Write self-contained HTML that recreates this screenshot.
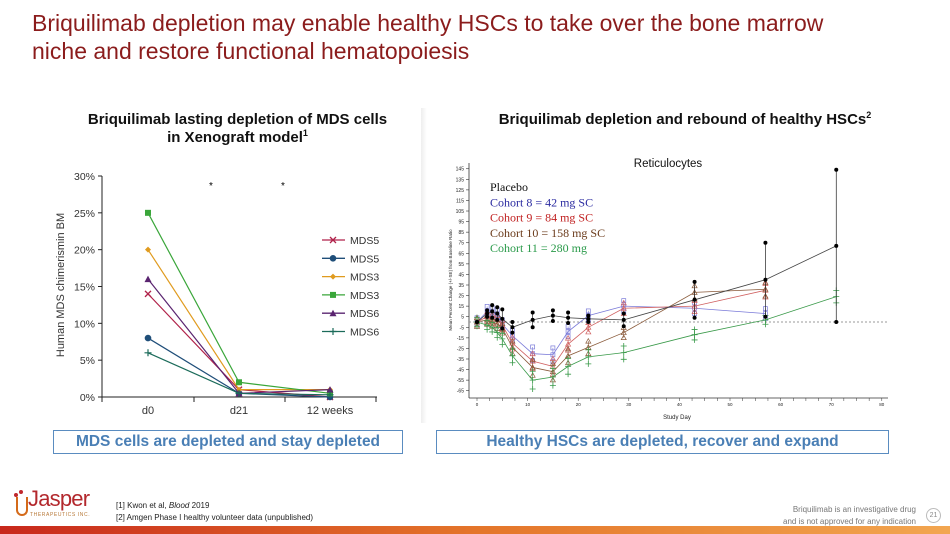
<!DOCTYPE html>
<html><head><meta charset="utf-8">
<style>
body{margin:0;width:950px;height:534px;overflow:hidden;background:#fff;font-family:"Liberation Sans",Arial,sans-serif;position:relative}
.abs{position:absolute}
.title{left:32px;top:9px;font-size:23px;line-height:28px;color:#8b1c1c}
.sub{font-weight:bold;color:#111;text-align:center;line-height:18px}
.box{border:1.5px solid #5a8cc0;color:#4a7fb5;font-weight:bold;font-size:15.5px;text-align:center;line-height:22px;height:22px}
.foot{font-size:8px;color:#222;line-height:12px}
</style></head><body>
<div class="abs title">Briquilimab depletion may enable healthy HSCs to take over the bone marrow<br>niche and restore functional hematopoiesis</div>
<div class="abs" style="left:421px;top:108px;width:6px;height:315px;background:linear-gradient(90deg,#eee,#fff)"></div>
<div class="abs sub" style="left:30px;top:111px;width:415px;font-size:15px">Briquilimab lasting depletion of MDS cells<br>in Xenograft model<sup style="font-size:9px;line-height:0">1</sup></div>
<div class="abs sub" style="left:450px;top:111px;width:470px;font-size:15px">Briquilimab depletion and rebound of healthy HSCs<sup style="font-size:9px;line-height:0">2</sup></div>

<svg class="abs" style="left:0;top:0" width="950" height="534" id="charts"></svg>

<div class="abs box" style="left:53px;top:430px;width:348px">MDS cells are depleted and stay depleted</div>
<div class="abs box" style="left:436px;top:430px;width:451px">Healthy HSCs are depleted, recover and expand</div>

<div class="abs" style="left:14px;top:490px;width:80px;height:32px">
 <div class="abs" style="left:2px;top:7px;width:8px;height:17px;border:2px solid #d46a1a;border-radius:0 0 6px 6px;border-top:none"></div>
 <div class="abs" style="left:0px;top:3px;width:4px;height:4px;border-radius:50%;background:#c0282d"></div>
 <div class="abs" style="left:5px;top:0px;width:4px;height:4px;border-radius:50%;background:#c0282d"></div>
 <div class="abs" style="left:14px;top:-4px;font-size:22px;color:#b3282d;letter-spacing:-0.8px">Jasper</div>
 <div class="abs" style="left:16px;top:22px;font-size:5px;color:#b87a3a;letter-spacing:0.6px;white-space:nowrap">THERAPEUTICS INC.</div>
</div>
<div class="abs foot" style="left:116px;top:500px">[1] Kwon et al, <i>Blood</i> 2019<br>[2] Amgen Phase I healthy volunteer data (unpublished)</div>
<div class="abs foot" style="right:34px;top:504px;text-align:right;color:#777">Briquilimab is an investigative drug<br>and is not approved for any indication</div>
<div class="abs" style="left:926px;top:508px;width:13px;height:13px;border:1px solid #bbb;border-radius:50%;font-size:7px;color:#888;text-align:center;line-height:13px">21</div>
<div class="abs" style="left:0;top:526px;width:950px;height:8px;background:linear-gradient(90deg,#c8281c,#e4752a 50%,#f2a650)"></div>

<script>
// ---- Left chart data ----
const leftCats = ["d0","d21","12 weeks"];
const leftNames = ["MDS5","MDS5","MDS3","MDS3","MDS6","MDS6"];
const leftS1 = [14,1,0];
const leftS2 = [8,0.5,0];
const leftS3 = [20,1,1];
const leftS4 = [25,2,0.5];
const leftS5 = [16,0.5,1];
const leftS6 = [6,0.5,0.3];
const leftTicks = [0,5,10,15,20,25,30];
// ---- Right chart data ----
const rightDays = [0,2,3,4,5,7,11,15,18,22,29,43,57,71];
const placebo = [0,8,10,8,3,-5,2,6,4,3,2,21,40,72];
const cohort8 = [0,10,9,7,-2,-13,-30,-31,-9,6,15,13,8,null];
const cohort9 = [0,5,3,2,-3,-20,-37,-42,-21,-5,13,15,30,null];
const cohort10 = [0,2,0,-2,-6,-24,-43,-47,-32,-24,-10,28,31,null];
const cohort11 = [0,-3,-5,-10,-16,-32,-55,-52,-42,-33,-29,-12,2,24];
const placeboErr = [0,3,6,6,9,5,7,5,5,3,6,17,35,72];
const rightYTicks = [145,135,125,115,105,95,85,75,65,55,45,35,25,15,5,-5,-15,-25,-35,-45,-55,-65];
const rightXTicks = [0,10,20,30,40,50,60,70,80];

const svg=document.getElementById('charts');
const NS='http://www.w3.org/2000/svg';
function mk(tag,attrs,parent){const e=document.createElementNS(NS,tag);for(const k in attrs)e.setAttribute(k,attrs[k]);(parent||svg).appendChild(e);return e;}
function txt(x,y,s,attrs,parent){const e=mk('text',Object.assign({x:x,y:y},attrs),parent);e.textContent=s;return e;}

// Left axes
const lx=i=>148+i*91, ly=v=>397-v*(221/30);
const lg=mk('g',{});


mk('line',{x1:102,y1:176,x2:102,y2:397,stroke:'#222','stroke-width':1},lg);
mk('line',{x1:102,y1:397,x2:377,y2:397,stroke:'#222','stroke-width':1},lg);
[102,194,285,376].forEach(x=>mk('line',{x1:x,y1:397,x2:x,y2:402,stroke:'#222'},lg));
leftTicks.forEach(v=>{mk('line',{x1:98,y1:ly(v),x2:102,y2:ly(v),stroke:'#222'},lg);
 const t=txt(95,ly(v)+4,v+'%',{'font-size':10.5,'text-anchor':'end',fill:'#333'},lg);});
leftCats.forEach((c,i)=>{const t=txt(lx(i),414,c,{'font-size':11,'text-anchor':'middle',fill:'#333'},lg);});
const yt=txt(0,0,'Human MDS chimerismin BM',{'font-size':11,fill:'#333','text-anchor':'middle',transform:'translate(64,285) rotate(-90)'},lg);

txt(211,189,'*',{'font-size':10,'text-anchor':'middle'},lg);txt(283,189,'*',{'font-size':10,'text-anchor':'middle'},lg);
const lcols=['#b0224a','#1f4e79','#e09b1f','#3aa63a','#5a2470','#1b6b5a'];
const lmarks=['x','circle','diamond','square','tri','plus'];
function marker(kind,x,y,c,g){
 if(kind==='x'){mk('path',{d:`M${x-3},${y-3}L${x+3},${y+3}M${x-3},${y+3}L${x+3},${y-3}`,stroke:c,'stroke-width':1.3},g);}
 else if(kind==='circle')mk('circle',{cx:x,cy:y,r:3.3,fill:c},g);
 else if(kind==='diamond')mk('path',{d:`M${x},${y-3}L${x+3},${y}L${x},${y+3}L${x-3},${y}Z`,fill:c},g);
 else if(kind==='square')mk('rect',{x:x-3,y:y-3,width:6,height:6,fill:c},g);
 else if(kind==='tri')mk('path',{d:`M${x},${y-3.5}L${x+3.5},${y+3}L${x-3.5},${y+3}Z`,fill:c},g);
 else mk('path',{d:`M${x-3.5},${y}L${x+3.5},${y}M${x},${y-3.5}L${x},${y+3.5}`,stroke:c,'stroke-width':1.2},g);
}
[leftS1,leftS2,leftS3,leftS4,leftS5,leftS6].forEach((s,k)=>{
 const g=mk('g',{},lg);
 
 
 mk('polyline',{points:s.map((v,i)=>lx(i)+','+ly(v)).join(' '),fill:'none',stroke:lcols[k],'stroke-width':1.2},g);
 s.forEach((v,i)=>marker(lmarks[k],lx(i),ly(v),lcols[k],g));
 const yy=240+k*18.3;
 const le=mk('g',{},lg);
 
 
 mk('line',{x1:322,y1:yy,x2:345,y2:yy,stroke:lcols[k],'stroke-width':1.3},le);
 marker(lmarks[k],333,yy,lcols[k],le);
 txt(350,yy+4,leftNames[k],{'font-size':10.5,fill:'#333'},le);
});

// Right chart
const rx=d=>477+d*5.06, ry=v=>322-v*1.057;
const rg=mk('g',{});


mk('line',{x1:469,y1:163,x2:469,y2:398,stroke:'#333','stroke-width':0.8},rg);
mk('line',{x1:469,y1:398,x2:888,y2:398,stroke:'#333','stroke-width':0.8},rg);
rightYTicks.forEach(v=>{mk('line',{x1:466,y1:ry(v),x2:469,y2:ry(v),stroke:'#333','stroke-width':0.6},rg);
 const t=txt(464,ry(v)+2,v,{'font-size':5,'text-anchor':'end',fill:'#222'},rg);});
for(let d=0;d<=80;d+=2.5)mk('line',{x1:rx(d),y1:398,x2:rx(d),y2:401,stroke:'#333','stroke-width':0.5},rg);
rightXTicks.forEach(d=>{const t=txt(rx(d),406,d,{'font-size':4.5,'text-anchor':'middle',fill:'#222'},rg);});
const xt=txt(677,419,'Study Day',{'font-size':6,'text-anchor':'middle',fill:'#222'},rg);
const ryt=txt(0,0,'Mean Percent Change (+/-SE) from Baseline Ratio',{'font-size':4.5,fill:'#222','text-anchor':'middle',transform:'translate(452,280) rotate(-90)'},rg);

mk('line',{x1:469,y1:ry(0),x2:888,y2:ry(0),stroke:'#999','stroke-width':1,'stroke-dasharray':'2,2'},rg);
const rt=txt(668,167,'Reticulocytes',{'font-size':11.5,'text-anchor':'middle',fill:'#111'},rg);
const cohortCols=['#7a7ad8','#d06060','#8a5a3a','#3a9a4a'];
[cohort8,cohort9,cohort10,cohort11].forEach((s,k)=>{
 const g=mk('g',{},rg);
 
 
 const pts=[];s.forEach((v,i)=>{if(v!==null)pts.push(rx(rightDays[i])+','+ry(v));});
 mk('polyline',{points:pts.join(' '),fill:'none',stroke:cohortCols[k],'stroke-width':0.8},g);
 s.forEach((v,i)=>{if(v===null)return;const x=rx(rightDays[i]),e=4+Math.abs(v)*0.08;
  mk('line',{x1:x,y1:ry(v+e),x2:x,y2:ry(v-e),stroke:cohortCols[k],'stroke-width':0.6},g);
  [v-e,v,v+e].forEach(w=>{if(k===3)mk('path',{d:`M${x-3},${ry(w)}L${x+3},${ry(w)}M${x},${ry(w)-3}L${x},${ry(w)+3}`,stroke:cohortCols[k],'stroke-width':0.8},g);
   else if(k===0)mk('rect',{x:x-2,y:ry(w)-2,width:4,height:4,fill:'none',stroke:cohortCols[k],'stroke-width':0.7},g);
   else mk('path',{d:`M${x},${ry(w)-2.5}L${x+2.5},${ry(w)+2}L${x-2.5},${ry(w)+2}Z`,fill:'none',stroke:cohortCols[k],'stroke-width':0.7},g);});
 });
});
const pg=mk('g',{},rg);


mk('polyline',{points:placebo.map((v,i)=>rx(rightDays[i])+','+ry(v)).join(' '),fill:'none',stroke:'#444','stroke-width':0.8},pg);
placebo.forEach((v,i)=>{const x=rx(rightDays[i]),e=placeboErr[i];
 if(e>0)mk('line',{x1:x,y1:ry(v+e),x2:x,y2:ry(v-e),stroke:'#222','stroke-width':0.7},pg);
 [v-e,v,v+e].forEach(w=>mk('circle',{cx:x,cy:ry(w),r:2,fill:'#000'},pg));});
const legT=['Placebo','Cohort 8 = 42 mg SC','Cohort 9 = 84 mg SC','Cohort 10 = 158 mg SC','Cohort 11 = 280 mg'];
const legC=['#111','#2a2aa0','#c02020','#6a3a1a','#2a9a4a'];
legT.forEach((s,i)=>{const t=txt(490,191+i*15.3,s,{'font-size':12,fill:legC[i],'font-family':'Liberation Serif, serif'},rg);});
</script>
</body></html>
